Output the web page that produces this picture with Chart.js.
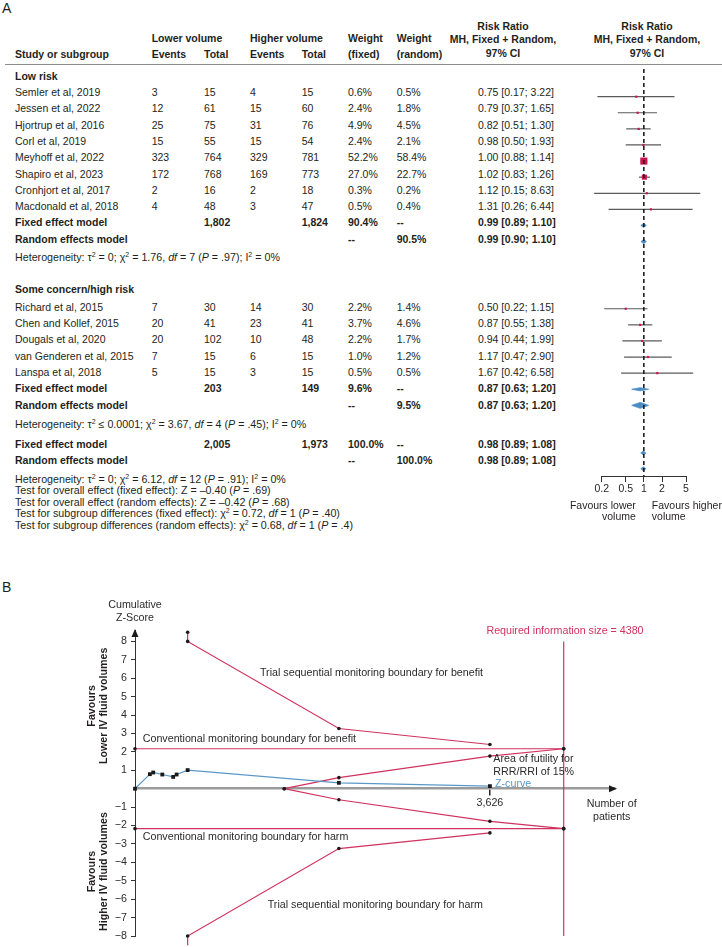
<!DOCTYPE html>
<html>
<head>
<meta charset="utf-8">
<script src="https://cdn.jsdelivr.net/npm/chart.js@4.4.1/dist/chart.umd.min.js"></script>
<style>
html,body{margin:0;padding:0;background:#fff;}
#page{position:relative;width:722px;height:947px;overflow:hidden;background:#fff;
  font-family:"Liberation Sans",Arial,Helvetica,sans-serif;color:#231f20;}
.t{position:absolute;white-space:nowrap;font-size:10.5px;line-height:12px;}
.b{font-weight:bold;}
.c{transform:translateX(-50%);text-align:center;}
.s{font-size:10.7px;}
sup{font-size:7px;line-height:0;vertical-align:4px;}
canvas{position:absolute;}
</style>
</head>
<body>
<div id="page">
  <canvas id="forest" width="162" height="468" style="left:560px;top:64px;width:162px;height:468px"></canvas>
  <canvas id="tsa" width="722" height="377" style="left:0px;top:570px;width:722px;height:377px"></canvas>
</div>
<script>
// ================= DATA: Panel A (forest plot) =================
const groupLabels = ["Low risk", "Some concern/high risk"];

const studiesLow = ["Semler et al, 2019","Jessen et al, 2022","Hjortrup et al, 2016","Corl et al, 2019",
  "Meyhoff et al, 2022","Shapiro et al, 2023","Cronhjort et al, 2017","Macdonald et al, 2018"];
const eventsLowerLow = [3, 12, 25, 15, 323, 172, 2, 4];
const totalLowerLow  = [15, 61, 75, 55, 764, 768, 16, 48];
const eventsHigherLow = [4, 15, 31, 15, 329, 169, 2, 3];
const totalHigherLow  = [15, 60, 76, 54, 781, 773, 18, 47];
const weightFixedLow  = [0.6, 2.4, 4.9, 2.4, 52.2, 27.0, 0.3, 0.5];
const weightRandomLow = [0.5, 1.8, 4.5, 2.1, 58.4, 22.7, 0.2, 0.4];
const rrLow   = [0.75, 0.79, 0.82, 0.98, 1.00, 1.02, 1.12, 1.31];
const ciLoLow = [0.17, 0.37, 0.51, 0.50, 0.88, 0.83, 0.15, 0.26];
const ciHiLow = [3.22, 1.65, 1.30, 1.93, 1.14, 1.26, 8.63, 6.44];

const studiesHigh = ["Richard et al, 2015","Chen and Kollef, 2015","Dougals et al, 2020",
  "van Genderen et al, 2015","Lanspa et al, 2018"];
const eventsLowerHigh = [7, 20, 20, 7, 5];
const totalLowerHigh  = [30, 41, 102, 15, 15];
const eventsHigherHigh = [14, 23, 10, 6, 3];
const totalHigherHigh  = [30, 41, 48, 15, 15];
const weightFixedHigh  = [2.2, 3.7, 2.2, 1.0, 0.5];
const weightRandomHigh = [1.4, 4.6, 1.7, 1.2, 0.5];
const rrHigh   = [0.50, 0.87, 0.94, 1.17, 1.67];
const ciLoHigh = [0.22, 0.55, 0.44, 0.47, 0.42];
const ciHiHigh = [1.15, 1.38, 1.99, 2.90, 6.58];

// subgroup pooled results [low risk, some concern/high risk]
const pooledTotalLower  = [1802, 203];
const pooledTotalHigher = [1824, 149];
const pooledWeightFixed  = [90.4, 9.6];
const pooledWeightRandom = [90.5, 9.5];
const fixedRR = [0.99, 0.87], fixedLo = [0.89, 0.63], fixedHi = [1.10, 1.20];
const randomRR = [0.99, 0.87], randomLo = [0.90, 0.63], randomHi = [1.10, 1.20];

// overall
const overallTotalLower = 2005, overallTotalHigher = 1973;
const overallFixed  = [0.98, 0.89, 1.08];
const overallRandom = [0.98, 0.89, 1.08];

// heterogeneity [low, high, overall]
const hetTau2 = ["= 0", "\u2264 0.0001", "= 0"];
const hetChi2 = ["1.76", "3.67", "6.12"];
const hetDf   = [7, 4, 12];
const hetP    = [".97", ".45", ".91"];
const hetI2   = [0, 0, 0];

const forestTicks = [0.2, 0.5, 1, 2, 5];

// ================= DATA: Panel B (trial sequential analysis) =================
const zPatients = [0, 152, 186, 279, 390, 425, 538, 2083, 3626];
const zScores   = [0, 0.79, 0.88, 0.77, 0.64, 0.77, 1.01, 0.32, 0.14];
const benefitPatients = [538, 538, 2083, 3626];
const benefitZ        = [8.50, 8.00, 3.27, 2.40];
const harmPatients    = [538, 538, 2083, 3626];
const harmZ           = [-8.50, -8.00, -3.25, -2.40];
const conventionalPatients = [0, 4380];
const conventionalBenefitZ = [2.17, 2.17];
const conventionalHarmZ    = [-2.17, -2.17];
const futilityPatients = [1525, 2083, 3626, 4380];
const futilityUpperZ   = [0, 0.60, 1.77, 2.17];
const futilityLowerZ   = [0, -0.60, -1.77, -2.17];
const requiredInfoSize = 4380;
const risZ = [-8, 8];
const tsaXTicks = [3626];
const tsaYTicks = [-8,-7,-6,-5,-4,-3,-2,-1,1,2,3,4,5,6,7,8];

// ================= LAYOUT (positions/styles) =================
const FONT = '"Liberation Sans", Arial, Helvetica, sans-serif';
const COL = {study:15, evL:151.7, totL:204, evH:250, totH:301.7, wF:348, wR:396.7, rr:478};
const GROUP_Y = [75.7, 289];
const STUDY_Y0 = [92, 306.7];
const STEP = 16.3;
const FIXED_Y = [222.4, 388.2];
const RANDOM_Y = [238.7, 404.5];
const HET_Y = [257, 424];
const OVERALL_Y = [444.3, 459.5];
const OVERALL_PLOT_Y = [452.7, 468.7];
const OVERALL_HET_Y = 479;
const TEST_STEP = 11.4;
const CRIMSON = '#c8154f';
const BLUE = '#4a8cc4';
const RED_LINE = '#d0325f';
const ZBLUE = '#5a98c8';

// ================= Panel A text =================
const page = document.getElementById('page');
function txt(x, y, html, cls, extra) {
  const d = document.createElement('div');
  d.className = 't ' + (cls || '');
  d.style.left = x + 'px';
  d.style.top = (y - 6) + 'px';
  d.innerHTML = html;
  if (extra) d.style.cssText += extra;
  page.insertBefore(d, page.firstChild);
}
const fmtN = n => n.toLocaleString('en-US');
const fmtW = w => w.toFixed(1) + '%';
const fmtRR = (r, l, h) => `${r.toFixed(2)} [${l.toFixed(2)}; ${h.toFixed(2)}]`;
const hetText = i => `Heterogeneity: \u03c4<sup>2</sup> ${hetTau2[i]}; \u03c7<sup>2</sup> = ${hetChi2[i]}, <i>df</i> = ${hetDf[i]} (<i>P</i> = ${hetP[i]}); I<sup>2</sup> = ${hetI2[i]}%`;

txt(2, 8, 'A', '', 'font-size:14px;line-height:16px;top:0px;');
txt(2, 587, 'B', '', 'font-size:14px;line-height:16px;top:579px;');

// header
txt(COL.evL, 38.3, 'Lower volume', 'b');
txt(COL.evH, 38.3, 'Higher volume', 'b');
txt(COL.wF, 38.3, 'Weight', 'b');
txt(COL.wR, 38.3, 'Weight', 'b');
txt(COL.study, 54.3, 'Study or subgroup', 'b');
txt(COL.evL, 54.3, 'Events', 'b');
txt(COL.totL, 54.3, 'Total', 'b');
txt(COL.evH, 54.3, 'Events', 'b');
txt(COL.totH, 54.3, 'Total', 'b');
txt(COL.wF, 54.3, '(fixed)', 'b');
txt(COL.wR, 54.3, '(random)', 'b');
[503, 647].forEach(cx => {
  txt(cx, 25.7, 'Risk Ratio', 'b c');
  txt(cx, 39.3, 'MH, Fixed + Random,', 'b c');
  txt(cx, 52.7, '97% CI', 'b c');
});
const rule = document.createElement('div');
rule.style.cssText = 'position:absolute;left:5px;top:63.5px;width:717px;height:1.5px;background:#8c8c8c;';
page.insertBefore(rule, page.firstChild);

const groups = [
  {names: studiesLow, evL: eventsLowerLow, totL: totalLowerLow, evH: eventsHigherLow, totH: totalHigherLow,
   wF: weightFixedLow, wR: weightRandomLow, rr: rrLow, lo: ciLoLow, hi: ciHiLow},
  {names: studiesHigh, evL: eventsLowerHigh, totL: totalLowerHigh, evH: eventsHigherHigh, totH: totalHigherHigh,
   wF: weightFixedHigh, wR: weightRandomHigh, rr: rrHigh, lo: ciLoHigh, hi: ciHiHigh}
];

groups.forEach((g, gi) => {
  txt(COL.study, GROUP_Y[gi], groupLabels[gi], 'b');
  g.names.forEach((n, k) => {
    const y = STUDY_Y0[gi] + STEP * k;
    txt(COL.study, y, n);
    txt(COL.evL, y, String(g.evL[k]));
    txt(COL.totL, y, String(g.totL[k]));
    txt(COL.evH, y, String(g.evH[k]));
    txt(COL.totH, y, String(g.totH[k]));
    txt(COL.wF, y, fmtW(g.wF[k]));
    txt(COL.wR, y, fmtW(g.wR[k]));
    txt(COL.rr, y, fmtRR(g.rr[k], g.lo[k], g.hi[k]));
  });
  let y = FIXED_Y[gi];
  txt(COL.study, y, 'Fixed effect model', 'b');
  txt(COL.totL, y, fmtN(pooledTotalLower[gi]), 'b');
  txt(COL.totH, y, fmtN(pooledTotalHigher[gi]), 'b');
  txt(COL.wF, y, fmtW(pooledWeightFixed[gi]), 'b');
  txt(COL.wR, y, '--', 'b');
  txt(COL.rr, y, fmtRR(fixedRR[gi], fixedLo[gi], fixedHi[gi]), 'b');
  y = RANDOM_Y[gi];
  txt(COL.study, y, 'Random effects model', 'b');
  txt(COL.wF, y, '--', 'b');
  txt(COL.wR, y, fmtW(pooledWeightRandom[gi]), 'b');
  txt(COL.rr, y, fmtRR(randomRR[gi], randomLo[gi], randomHi[gi]), 'b');
  txt(COL.study, HET_Y[gi], hetText(gi), 's');
});

txt(COL.study, OVERALL_Y[0], 'Fixed effect model', 'b');
txt(COL.totL, OVERALL_Y[0], fmtN(overallTotalLower), 'b');
txt(COL.totH, OVERALL_Y[0], fmtN(overallTotalHigher), 'b');
txt(COL.wF, OVERALL_Y[0], fmtW(100), 'b');
txt(COL.wR, OVERALL_Y[0], '--', 'b');
txt(COL.rr, OVERALL_Y[0], fmtRR(...overallFixed), 'b');
txt(COL.study, OVERALL_Y[1], 'Random effects model', 'b');
txt(COL.wF, OVERALL_Y[1], '--', 'b');
txt(COL.wR, OVERALL_Y[1], fmtW(100), 'b');
txt(COL.rr, OVERALL_Y[1], fmtRR(...overallRandom), 'b');

const bottomLines = [
  hetText(2),
  'Test for overall effect (fixed effect): Z = \u20130.40 (<i>P</i> = .69)',
  'Test for overall effect (random effects): Z = \u20130.42 (<i>P</i> = .68)',
  'Test for subgroup differences (fixed effect): \u03c7<sup>2</sup> = 0.72, <i>df</i> = 1 (<i>P</i> = .40)',
  'Test for subgroup differences (random effects): \u03c7<sup>2</sup> = 0.68, <i>df</i> = 1 (<i>P</i> = .4)'
];
bottomLines.forEach((l, i) => txt(COL.study, OVERALL_HET_Y + TEST_STEP * i, l, 's'));

// ================= Panel A forest chart =================
const forestDatasets = [];
// dashed reference line at RR = 1
forestDatasets.push({type:'scatter', showLine:true, data:[{x:1,y:64},{x:1,y:476}],
  borderColor:'#111', borderWidth:1.5, borderDash:[4,3], pointRadius:0, clip:false});
// study squares
const sq = [];
const sqR = [];
groups.forEach((g, gi) => g.rr.forEach((r, k) => {
  sq.push({x:r, y:STUDY_Y0[gi] + STEP * k});
  const side = Math.max(2.2, Math.sqrt(g.wF[k]) * 0.98);
  sqR.push(side / (2 * Math.SQRT1_2));
}));
forestDatasets.push({type:'scatter', data:sq, pointStyle:'rect', pointRadius:sqR,
  backgroundColor:CRIMSON, borderWidth:0, clip:false});
// pooled diamonds
function diamond(r, lo, hi, y, h) {
  return {type:'scatter', showLine:true, fill:'shape', tension:0,
    data:[{x:lo,y:y},{x:r,y:y-h},{x:hi,y:y},{x:r,y:y+h},{x:lo,y:y}],
    borderColor:BLUE, backgroundColor:BLUE, borderWidth:0.8, pointRadius:0, clip:false};
}
forestDatasets.push(diamond(fixedRR[0], fixedLo[0], fixedHi[0], FIXED_Y[0], 2));
forestDatasets.push(diamond(randomRR[0], randomLo[0], randomHi[0], RANDOM_Y[0], 2.2));
forestDatasets.push(diamond(fixedRR[1], fixedLo[1], fixedHi[1], FIXED_Y[1], 1.6));
forestDatasets.push(diamond(randomRR[1], randomLo[1], randomHi[1], RANDOM_Y[1], 3));
forestDatasets.push(diamond(overallFixed[0], overallFixed[1], overallFixed[2], OVERALL_PLOT_Y[0], 2));
forestDatasets.push(diamond(overallRandom[0], overallRandom[1], overallRandom[2], OVERALL_PLOT_Y[1], 2));
// CI lines
groups.forEach((g, gi) => g.rr.forEach((r, k) => {
  const y = STUDY_Y0[gi] + STEP * k;
  forestDatasets.push({type:'scatter', showLine:true, data:[{x:g.lo[k],y:y},{x:g.hi[k],y:y}],
    borderColor:'#5a5a5a', borderWidth:1.2, pointRadius:0, clip:false});
}));

const forestLabels = {
  id:'forestLabels',
  afterDraw(chart) {
    const {ctx, scales:{x}, chartArea} = chart;
    const p1 = x.getPixelForValue(1);
    ctx.save();
    ctx.font = '10.5px ' + FONT;
    ctx.fillStyle = '#231f20';
    ctx.textBaseline = 'middle';
    ctx.textAlign = 'right';
    ctx.fillText('Favours lower', p1 - 8, chartArea.bottom + 30);
    ctx.fillText('volume', p1 - 8, chartArea.bottom + 41.5);
    ctx.textAlign = 'left';
    ctx.fillText('Favours higher', p1 + 8, chartArea.bottom + 30);
    ctx.fillText('volume', p1 + 8, chartArea.bottom + 41.5);
    ctx.restore();
  }
};

new Chart(document.getElementById('forest'), {
  type:'scatter',
  data:{datasets:forestDatasets},
  options:{
    responsive:false, animation:false, devicePixelRatio:1,
    layout:{padding:{left:41.7, right:36, top:0, bottom:32}},
    plugins:{legend:{display:false}, tooltip:{enabled:false}},
    scales:{
      x:{type:'logarithmic', min:0.2, max:5,
        afterBuildTicks:s => { s.ticks = forestTicks.map(v => ({value:v})); },
        afterFit:s => { s.height = 24; },
        ticks:{callback:v => String(v), font:{family:FONT, size:10.5}, color:'#231f20', padding:1,
          autoSkip:false, maxRotation:0},
        grid:{drawOnChartArea:false, drawTicks:true, tickLength:6, color:'#333', lineWidth:1},
        border:{display:true, color:'#333', width:1}},
      y:{type:'linear', display:false, min:64, max:476, reverse:true}
    }
  },
  plugins:[forestLabels]
});

// ================= Panel B TSA chart =================
const pts = (xs, ys) => xs.map((v, i) => ({x:v, y:ys[i]}));
const boundaryStyle = {type:'scatter', showLine:true, borderColor:RED_LINE, borderWidth:1.2,
  pointRadius:1.8, pointBackgroundColor:'#1a1a1a', pointBorderWidth:0, clip:false, tension:0};
const tsaDatasets = [
  {type:'scatter', showLine:true, data:pts(zPatients, zScores), borderColor:ZBLUE, borderWidth:1.2,
    pointStyle:'rect', pointRadius:2.7, pointBackgroundColor:'#1a1a1a', pointBorderWidth:0, clip:false},
  Object.assign({data:pts(futilityPatients, futilityUpperZ)}, boundaryStyle),
  Object.assign({data:pts(futilityPatients, futilityLowerZ)}, boundaryStyle),
  Object.assign({data:pts(conventionalPatients, conventionalBenefitZ)}, boundaryStyle),
  Object.assign({data:pts(conventionalPatients, conventionalHarmZ)}, boundaryStyle),
  Object.assign({data:pts(benefitPatients, benefitZ)}, boundaryStyle),
  Object.assign({data:pts(harmPatients, harmZ)}, boundaryStyle),
  {type:'scatter', showLine:true, data:risZ.map(z => ({x:requiredInfoSize, y:z})), borderColor:RED_LINE,
    borderWidth:1.2, pointRadius:0, clip:false}
];

const tsaLabels = [
  {text:'Trial sequential monitoring boundary for benefit', x:1277, z:6.27, align:'left'},
  {text:'Conventional monitoring boundary for benefit', x:79, z:2.68, align:'left'},
  {text:'Conventional monitoring boundary for harm', x:79, z:-2.61, align:'left'},
  {text:'Trial sequential monitoring boundary for harm', x:1356, z:-6.32, align:'left'},
  {text:'Area of futility for', x:3661, z:1.60, align:'left'},
  {text:'RRR/RRI of 15%', x:3661, z:0.91, align:'left'},
  {text:'Z-curve', x:3678, z:0.26, align:'left', color:ZBLUE},
  {text:'Number of', x:4870, z:-0.83, align:'center'},
  {text:'patients', x:4870, z:-1.52, align:'center'},
  {text:'Required information size = ' + requiredInfoSize, x:4393, z:8.58, align:'center', color:RED_LINE},
  {text:'Cumulative', x:0, z:9.96, align:'center'},
  {text:'Z-Score', x:0, z:9.25, align:'center'}
];

const tsaDecor = {
  id:'tsaDecor',
  afterDraw(chart) {
    const {ctx, scales:{x, y}, chartArea} = chart;
    ctx.save();
    // arrows
    ctx.fillStyle = '#1a1a1a';
    const y0 = y.getPixelForValue(0);
    ctx.beginPath();
    ctx.moveTo(chartArea.right + 2, y0);
    ctx.lineTo(chartArea.right - 6, y0 - 3.5);
    ctx.lineTo(chartArea.right - 6, y0 + 3.5);
    ctx.closePath(); ctx.fill();
    ctx.beginPath();
    ctx.moveTo(chartArea.left, chartArea.top - 1);
    ctx.lineTo(chartArea.left - 3.5, chartArea.top + 7);
    ctx.lineTo(chartArea.left + 3.5, chartArea.top + 7);
    ctx.closePath(); ctx.fill();
    // labels
    ctx.font = '10.7px ' + FONT;
    ctx.textBaseline = 'middle';
    tsaLabels.forEach(l => {
      ctx.fillStyle = l.color || '#2b2b2b';
      ctx.textAlign = l.align;
      ctx.fillText(l.text, x.getPixelForValue(l.x), y.getPixelForValue(l.z));
    });
    // rotated axis titles
    ctx.font = 'bold 10.7px ' + FONT;
    ctx.fillStyle = '#231f20';
    ctx.textAlign = 'center';
    [[4.5, 'Lower IV fluid volumes'], [-4.5, 'Higher IV fluid volumes']].forEach(([z, t]) => {
      const cy = y.getPixelForValue(z);
      ctx.save();
      ctx.translate(chartArea.left - 43, cy);
      ctx.rotate(-Math.PI / 2);
      ctx.fillText('Favours', 0, 0);
      ctx.restore();
      ctx.save();
      ctx.translate(chartArea.left - 30.5, cy);
      ctx.rotate(-Math.PI / 2);
      ctx.fillText(t, 0, 0);
      ctx.restore();
    });
    ctx.restore();
  }
};

new Chart(document.getElementById('tsa'), {
  type:'scatter',
  data:{datasets:tsaDatasets},
  options:{
    responsive:false, animation:false, devicePixelRatio:1,
    layout:{padding:{left:0, right:107, top:60, bottom:11}},
    plugins:{legend:{display:false}, tooltip:{enabled:false}},
    scales:{
      x:{type:'linear', min:0, max:4904, position:{y:0},
        afterBuildTicks:s => { s.ticks = tsaXTicks.map(v => ({value:v})); },
        ticks:{callback:v => v.toLocaleString('en-US'), font:{family:FONT, size:10.7}, color:'#2b2b2b',
          padding:2, autoSkip:false, maxRotation:0},
        grid:{drawOnChartArea:false, drawTicks:true, tickLength:6, color:'#222', lineWidth:1.5},
        border:{display:true, color:'#9b9b9b', width:2.5}},
      y:{type:'linear', min:-8, max:8.62, position:'left',
        afterFit:s => { s.width = 135; },
        afterBuildTicks:s => { s.ticks = tsaYTicks.map(v => ({value:v})); },
        ticks:{callback:v => (v < 0 ? '\u2212' + Math.abs(v) : String(v)), font:{family:FONT, size:10.7},
          color:'#2b2b2b', padding:4, autoSkip:false},
        grid:{drawOnChartArea:false, drawTicks:true, tickLength:4, color:'#333', lineWidth:1},
        border:{display:true, color:'#333', width:1}}
    }
  },
  plugins:[tsaDecor]
});
</script>
</body>
</html>
